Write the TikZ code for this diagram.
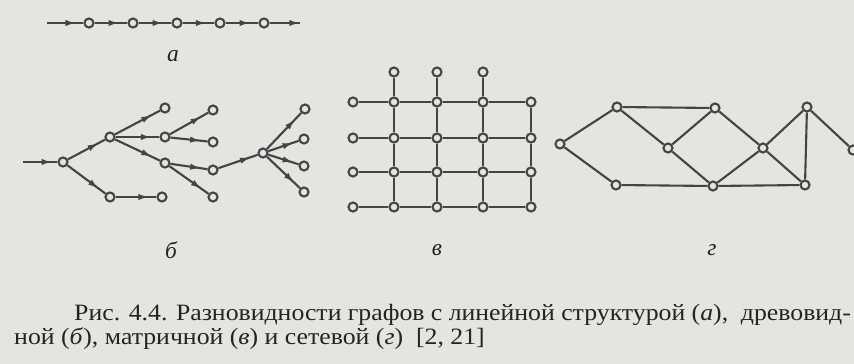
\documentclass[tikz,border=0pt]{standalone}
\usepackage{fontspec}
\setmainfont{Liberation Serif}
\newfontfamily\capfont[FakeStretch=1.1]{Liberation Serif}
\usetikzlibrary{positioning,arrows.meta,decorations.markings}
\definecolor{paper}{RGB}{228,228,225}
\definecolor{ink}{RGB}{68,68,68}
\definecolor{print}{RGB}{35,35,35}

\begin{document}
\begin{tikzpicture}[
    x=0.03cm, y=-0.03cm,
    vert/.style={draw=ink, circle, line width=1.8pt, fill=paper, minimum size=0.27cm, inner sep=0pt},
    edge/.style={draw=ink, line width=1.8pt},
    arr/.style={edge, postaction={decorate},
      decoration={markings, mark=at position #1 with {\arrow[ink]{Latex[length=3.2mm,width=1.9mm]}}}},
    arr/.default=0.82,
    tag/.style={font=\fontsize{20}{22}\selectfont\itshape, text=print},
    capline/.style={font=\capfont\fontsize{20}{24}\selectfont, text=print, anchor=base west, inner sep=0pt}
  ]
  \fill[paper] (0,0) rectangle (854,364);
  \useasboundingbox (0,0) rectangle (854,364);

  % (a) linear chain
  \coordinate (ain) at (47,23);
  \node[vert] (a1) at (89,23) {};
  \node[vert] (a2) at (133,23) {};
  \node[vert] (a3) at (177,23) {};
  \node[vert] (a4) at (220,23) {};
  \node[vert] (a5) at (264,23) {};
  \coordinate (aout) at (300,23);
  \draw[arr=0.8] (ain) -- (a1);
  \draw[arr=0.75] (a1) -- (a2);
  \draw[arr=0.75] (a2) -- (a3);
  \draw[arr=0.75] (a3) -- (a4);
  \draw[arr=0.75] (a4) -- (a5);
  \draw[arr=1] (a5) -- (aout);
  \node[tag] (la) at (173,56) {а};

  % (b) tree
  \coordinate (bin) at (23,162);
  \node[vert] (r) at (63,162) {};
  \node[vert] (p) at (110,137) {};
  \node[vert] (q) at (110,197) {};
  \node[vert] (p1) at (165,108) {};
  \node[vert] (p2) at (165,137) {};
  \node[vert] (p3) at (165,163) {};
  \node[vert] (q1) at (162,197) {};
  \node[vert] (p21) at (213,110) {};
  \node[vert] (p22) at (213,142) {};
  \node[vert] (p31) at (213,170) {};
  \node[vert] (p32) at (213,197) {};
  \node[vert] (c) at (263,153) {};
  \node[vert] (c1) at (305,109) {};
  \node[vert] (c2) at (304,139) {};
  \node[vert] (c3) at (304,166) {};
  \node[vert] (c4) at (304,192) {};
  \draw[arr=0.85] (bin) -- (r);
  \draw[arr] (r) -- (p);
  \draw[arr] (r) -- (q);
  \draw[arr] (q) -- (q1);
  \draw[arr] (p) -- (p1);
  \draw[arr] (p) -- (p2);
  \draw[arr] (p) -- (p3);
  \draw[arr] (p2) -- (p21);
  \draw[arr] (p2) -- (p22);
  \draw[arr] (p3) -- (p31);
  \draw[arr] (p3) -- (p32);
  \draw[arr] (p31) -- (c);
  \draw[arr] (c) -- (c1);
  \draw[arr] (c) -- (c2);
  \draw[arr] (c) -- (c3);
  \draw[arr] (c) -- (c4);
  \node[tag] (lb) at (171,250) {б};

  % (c) matrix
  \foreach \j/\y in {1/102,2/138,3/172,4/207}
    \foreach \i/\x in {1/353,2/394,3/437,4/483,5/531}
      \node[vert] (m\i\j) at (\x,\y) {};
  \foreach \i/\x in {2/394,3/437,4/483}
    \node[vert] (t\i) at (\x,72) {};
  \foreach \j in {1,...,4} {
    \draw[edge] (m1\j) -- (m2\j);
    \draw[edge] (m2\j) -- (m3\j);
    \draw[edge] (m3\j) -- (m4\j);
    \draw[edge] (m4\j) -- (m5\j);
  }
  \foreach \i in {2,...,5} {
    \draw[edge] (m\i1) -- (m\i2);
    \draw[edge] (m\i2) -- (m\i3);
    \draw[edge] (m\i3) -- (m\i4);
  }
  \foreach \i in {2,3,4}
    \draw[edge] (t\i) -- (m\i1);
  \node[tag] (lv) at (437,250) {в};

  % (d) network
  \node[vert] (n0) at (560,144) {};
  \node[vert] (u1) at (617,107) {};
  \node[vert] (d1) at (616,185) {};
  \node[vert] (k1) at (668,148) {};
  \node[vert] (u2) at (715,108) {};
  \node[vert] (d2) at (713,186) {};
  \node[vert] (k2) at (763,148) {};
  \node[vert] (u3) at (807,107) {};
  \node[vert] (d3) at (805,185) {};
  \node[vert] (n9) at (853,150) {};
  \draw[edge] (n0) -- (u1);
  \draw[edge] (n0) -- (d1);
  \draw[edge] (u1) -- (u2);
  \draw[edge] (u1) -- (k1);
  \draw[edge] (k1) -- (u2);
  \draw[edge] (k1) -- (d2);
  \draw[edge] (d1) -- (d2);
  \draw[edge] (d2) -- (k2);
  \draw[edge] (u2) -- (k2);
  \draw[edge] (k2) -- (u3);
  \draw[edge] (k2) -- (d3);
  \draw[edge] (u3) -- (d3);
  \draw[edge] (d2) -- (d3);
  \draw[edge] (u3) -- (n9);
  \node[tag] (lg) at (712,250) {г};

  % caption
  \node[capline] (cap1) at (74,320)
    {\makebox[23.3cm][s]{Рис. 4.4. Разновидности графов с линейной структурой (\textit{а}),\ \ древовид-}};
  \node[capline] (cap2) at (14,344)
    {ной (\textit{б}), матричной (\textit{в}) и сетевой (\textit{г})\ \ [2, 21]};
\end{tikzpicture}
\end{document}
